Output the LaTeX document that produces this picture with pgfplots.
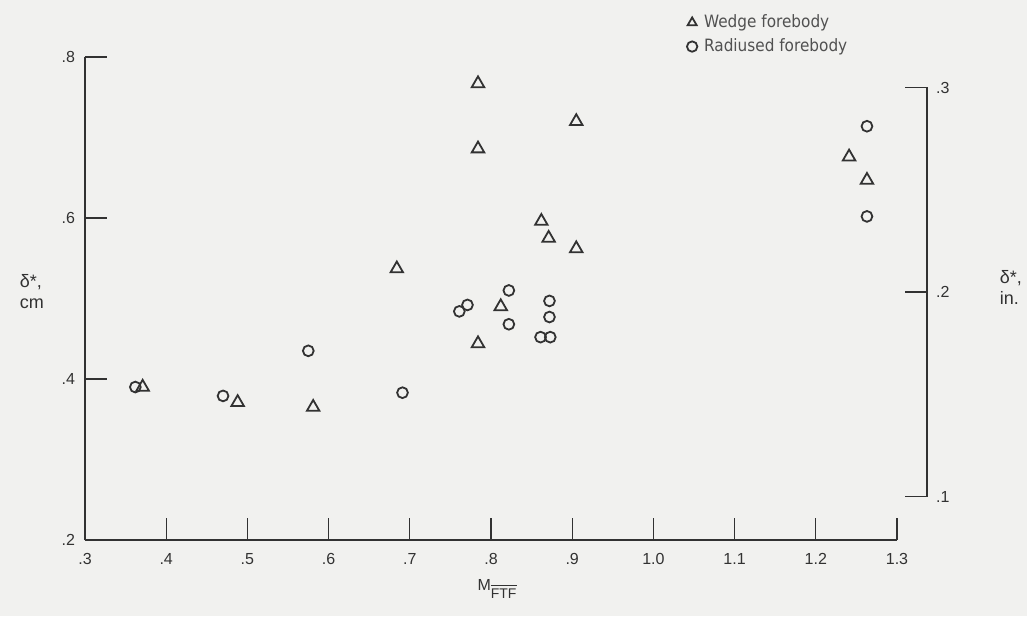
\documentclass[border=0pt]{standalone}
\usepackage{fontspec}
\setmainfont{Liberation Sans}
\newfontfamily\condfont{DejaVu Sans Condensed}
\usepackage{pgfplots}
\pgfplotsset{compat=1.18}
\definecolor{paper}{RGB}{241,241,239}
\definecolor{ink}{RGB}{50,50,50}

% shared look of the two scales
\pgfplotsset{
  scanaxis/.style={
    scale only axis,
    width=406pt,
    xmin=0.3, xmax=1.3,
    tick align=inside,
    major tick length=11pt,
    tick style={ink, line width=0.6pt},
    tick label style={font=\fontsize{8}{9.6}\selectfont, text=ink},
  },
}

\begin{document}
\begin{tikzpicture}
\fill[paper] (-42.5pt,-38pt) rectangle (471pt,270pt);

\begin{axis}[
  scanaxis,
  name=main,
  at={(0pt,0pt)}, anchor=south west,
  height=241.5pt,
  ymin=0.2, ymax=0.8,
  axis x line*=bottom, axis y line*=left,
  x axis line style={ink, line width=1.1pt, -},
  y axis line style={ink, line width=0.6pt, -},
  xtick={0.3,0.4,0.5,0.6,0.7,0.8,0.9,1.0,1.1,1.2,1.3},
  xticklabels={.3,.4,.5,.6,.7,.8,.9,1.0,1.1,1.2,1.3},
  ytick={0.2,0.4,0.6,0.8},
  yticklabels={.2,.4,.6,.8},
  xticklabel style={yshift=-3pt},
  yticklabel style={xshift=-1.5pt},
  xlabel={M$_{\overline{\hbox{\fontsize{7}{8}\selectfont FTF}}}$},
  every axis x label/.style={at={(axis description cs:0.508,0)}, anchor=north, yshift=-16pt, font=\fontsize{8}{9.6}\selectfont, text=ink},
  ylabel={δ*,\\cm},
  every axis y label/.style={at={(axis description cs:-0.089,0.515)}, anchor=west, align=left, font=\fontsize{9}{10.5}\selectfont, text=ink},
  legend style={
    at={(0.730,1.105)}, anchor=north west,
    draw=none, fill=none,
    font=\condfont\fontsize{8.5}{10}\selectfont,
    text=ink!85,
    row sep=0pt,
  },
  legend cell align=left,
  legend image code/.code={%
    \path[draw=none, fill=none] (-4pt,-3pt) rectangle (4pt,3pt);
    \draw[#1, mark size=2.6pt] plot coordinates {(0pt,0pt)};},
  clip=false,
]
\addplot[only marks, mark=triangle, mark size=3.6pt, mark options={ink, line width=0.9pt, fill=none}]
coordinates {
  (0.371,0.390) (0.488,0.371) (0.581,0.365) (0.684,0.537)
  (0.784,0.767) (0.784,0.686) (0.784,0.444) (0.812,0.490)
  (0.862,0.596) (0.871,0.575) (0.905,0.720) (0.905,0.562)
  (1.241,0.676) (1.263,0.647)
};
\addlegendentry{Wedge forebody}
\addplot[only marks, mark=o, mark size=2.7pt, mark options={ink, line width=0.9pt}]
coordinates {
  (0.362,0.390) (0.470,0.379) (0.575,0.435) (0.691,0.383)
  (0.761,0.484) (0.771,0.492) (0.822,0.510) (0.822,0.468)
  (0.861,0.452) (0.873,0.452) (0.872,0.497) (0.872,0.477)
  (1.263,0.714) (1.263,0.602)
};
\addlegendentry{Radiused forebody}
\end{axis}

% scale in inches on the right
\begin{axis}[
  scanaxis,
  at={(15pt,21.75pt)}, anchor=south west,
  height=204.5pt,
  ymin=0.1, ymax=0.3,
  hide x axis,
  axis y line*=right,
  y axis line style={ink, line width=0.6pt, -},
  ytick={0.1,0.2,0.3},
  yticklabels={.1,.2,.3},
  yticklabel style={xshift=1pt},
  ylabel={δ*,\\in.},
  every axis y label/.style={at={(axis description cs:1.081,0.512)}, anchor=west, align=left, font=\fontsize{9}{10.5}\selectfont, text=ink},
]
\end{axis}

\pgfresetboundingbox
\useasboundingbox (-42.5pt,-38pt) rectangle (471pt,270pt);
\end{tikzpicture}
\end{document}
